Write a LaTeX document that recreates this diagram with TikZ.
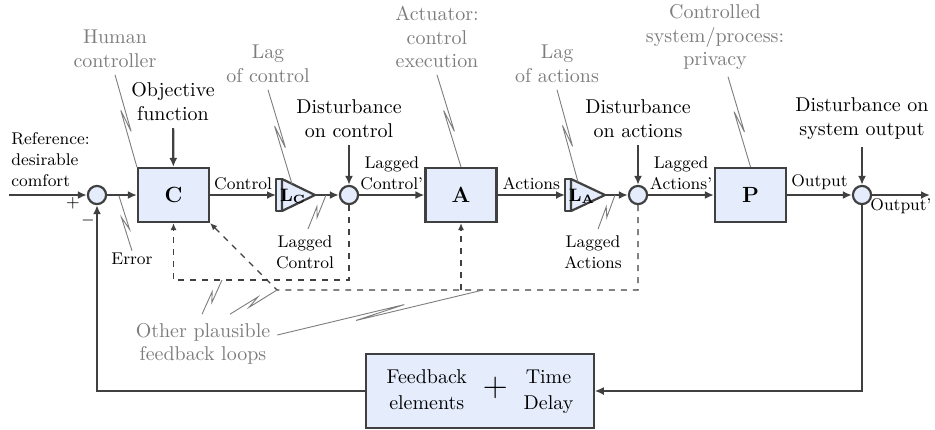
\documentclass[tikz,border=0pt]{standalone}
\usetikzlibrary{calc,arrows.meta}
\definecolor{boxfill}{RGB}{229,237,252}
\definecolor{linec}{RGB}{64,64,64}
\definecolor{notec}{RGB}{125,125,125}
\newcommand{\zigptr}[2]{\draw[pointer] (#1) -- ($(#1)!0.62!(#2)!1.3pt!90:(#2)$) -- ($(#1)!0.38!(#2)!1.3pt!-90:(#2)$) -- (#2);}
\begin{document}
\begin{tikzpicture}[x=0.0176cm,y=-0.0176cm,
    flow/.style={draw=linec,line width=1.1pt,-{Latex[length=4.5pt,width=4pt]}},
    fback/.style={draw=linec,dashed,line width=0.6pt,-{Latex[length=3.5pt,width=3pt]}},
    block/.style={draw=linec,line width=1.1pt,fill=boxfill,minimum width=1.25cm,minimum height=0.95cm,font=\fontsize{11}{13}\selectfont\bfseries},
    sumc/.style={circle,draw=linec,line width=1.1pt,fill=boxfill,minimum size=0.32cm,inner sep=0pt},
    lagpart/.style={draw=linec,line width=1.1pt,fill=boxfill,line join=round},
    lbl/.style={font=\fontsize{8.5}{10.5}\selectfont,align=center,inner sep=1pt},
    note/.style={text=notec,align=center,font=\fontsize{10}{11.8}\selectfont},
    pointer/.style={draw=notec,line width=0.45pt}]
\useasboundingbox (0,0) rectangle (935,429);

\node[sumc] (s1) at (97,195) {};
\node[block] (C) at (173.5,195) {C};
\node[sumc] (s2) at (349,195) {};
\node[block] (A) at (461,195) {A};
\node[sumc] (s3) at (638,195) {};
\node[block] (P) at (750.5,195) {P};
\node[sumc] (s4) at (862,195) {};

% lag elements
\draw[lagpart] (276,179) rectangle (282,211);
\draw[lagpart] (282,179) -- (315,195) -- (282,211) -- cycle;
\node[font=\small,inner sep=0pt] (LCtxt) at (293,196) {\textbf{L}$_{\mathbf{C}}$};
\coordinate (LCin) at (276,195);
\coordinate (LCout) at (315,195);
\draw[lagpart] (565,179) rectangle (571,211);
\draw[lagpart] (571,179) -- (605,195) -- (571,211) -- cycle;
\node[font=\small,inner sep=0pt] (LAtxt) at (582,196) {\textbf{L}$_{\mathbf{A}}$};
\coordinate (LAin) at (565,195);
\coordinate (LAout) at (605,195);

% forward path
\coordinate (in) at (9,195);
\coordinate (out) at (930,195);
\node[lbl,anchor=west,align=left] (ref) at (9,160) {Reference:\\desirable\\comfort};
\draw[flow] (in) -- (s1);
\draw[flow] (s1) -- (C);
\draw[flow] (C) -- node[lbl,above=1pt] (lctl) {Control} (LCin);
\draw[flow] (LCout) -- (s2);
\draw[flow] (s2) -- node[lbl,above=1pt] (llc) {Lagged\\Control'} (A);
\draw[flow] (A) -- node[lbl,above=1pt] (lact) {Actions} (LAin);
\draw[flow] (LAout) -- (s3);
\draw[flow] (s3) -- node[lbl,above=1pt] (lla) {Lagged\\Actions'} (P);
\draw[flow] (P) -- node[lbl,above=1pt] (lout) {Output} (s4);
\draw[flow] (s4) -- (out);
\node[lbl] (lout2) at (901,206) {Output'};
\node[lbl] (plus) at (73,203) {+};
\node[lbl] (minus) at (88,220) {$-$};

% disturbances
\node[align=center] (objf) at (173,102) {Objective\\function};
\node[align=center] (dc) at (349,119) {Disturbance\\on control};
\node[align=center] (da) at (638,119) {Disturbance\\on actions};
\node[align=center] (ds) at (862,119) {Disturbance on\\system output};
\draw[flow] (objf) -- (C);
\draw[flow] (dc) -- (s2);
\draw[flow] (da) -- (s3);
\draw[flow] (ds) -- (s4);

% main feedback
\node[block,font=\normalsize,minimum width=4cm,minimum height=1.3cm] (fb) at (480,391)
  {\def\arraystretch{1.1}\begin{tabular}{@{}c@{}}Feedback\\elements\end{tabular}\hspace{8pt}{\LARGE +}\hspace{8pt}\begin{tabular}{@{}c@{}}Time\\Delay\end{tabular}};
\draw[flow] (s4.south) |- (fb.east);
\draw[flow] (fb.west) -| (s1.south);

% other loops
\coordinate (fbA) at (349,280);
\coordinate (fbB) at (638,290);
\coordinate (kink) at (277,290);
\draw[fback] (s2.south) -- (fbA) -| (C.south);
\draw[fback] (s3.south) -- (fbB) -- (kink) -- (C.south east);
\draw[fback] (A.south |- kink) -- (A.south);

% notes
\node[note] (hum) at (115,49) {Human\\controller};
\node[note] (lagc) at (268,64) {Lag\\of control};
\node[note] (act) at (437,37) {Actuator:\\control\\execution};
\node[note] (laga) at (557,64) {Lag\\of actions};
\node[note] (csys) at (715,37) {Controlled\\system/process:\\privacy};
\node[note] (oth) at (203,344) {Other plausible\\feedback loops};
\node[lbl] (err) at (132,259) {Error};
\node[lbl] (lgc) at (305,252) {Lagged\\Control};
\node[lbl] (lga) at (593,252) {Lagged\\Actions};

\coordinate (errpt) at (119,196);
\coordinate (LCtop) at (292,184);
\coordinate (LCedge) at (326,195);
\coordinate (LAtop) at (578,182);
\coordinate (LAedge) at (615,195);
\coordinate (l1pt) at (222,280);
\coordinate (l2pt) at (483,290);

\zigptr{hum.south}{C.north west}
\zigptr{err.north}{errpt}
\zigptr{lagc.south}{LCtop}
\zigptr{$(lgc.north)+(3,-4)$}{LCedge}
\zigptr{act.south}{A.north}
\zigptr{laga.south}{LAtop}
\zigptr{$(lga.north)+(5,-4)$}{LAedge}
\zigptr{$(csys.south)+(13,0)$}{P.north}
\zigptr{$(oth.north)+(-1,-2)$}{l1pt}
\zigptr{$(oth.north)+(27,-2)$}{kink}
\zigptr{$(oth.east)+(0,-9)$}{l2pt}
\end{tikzpicture}
\end{document}
